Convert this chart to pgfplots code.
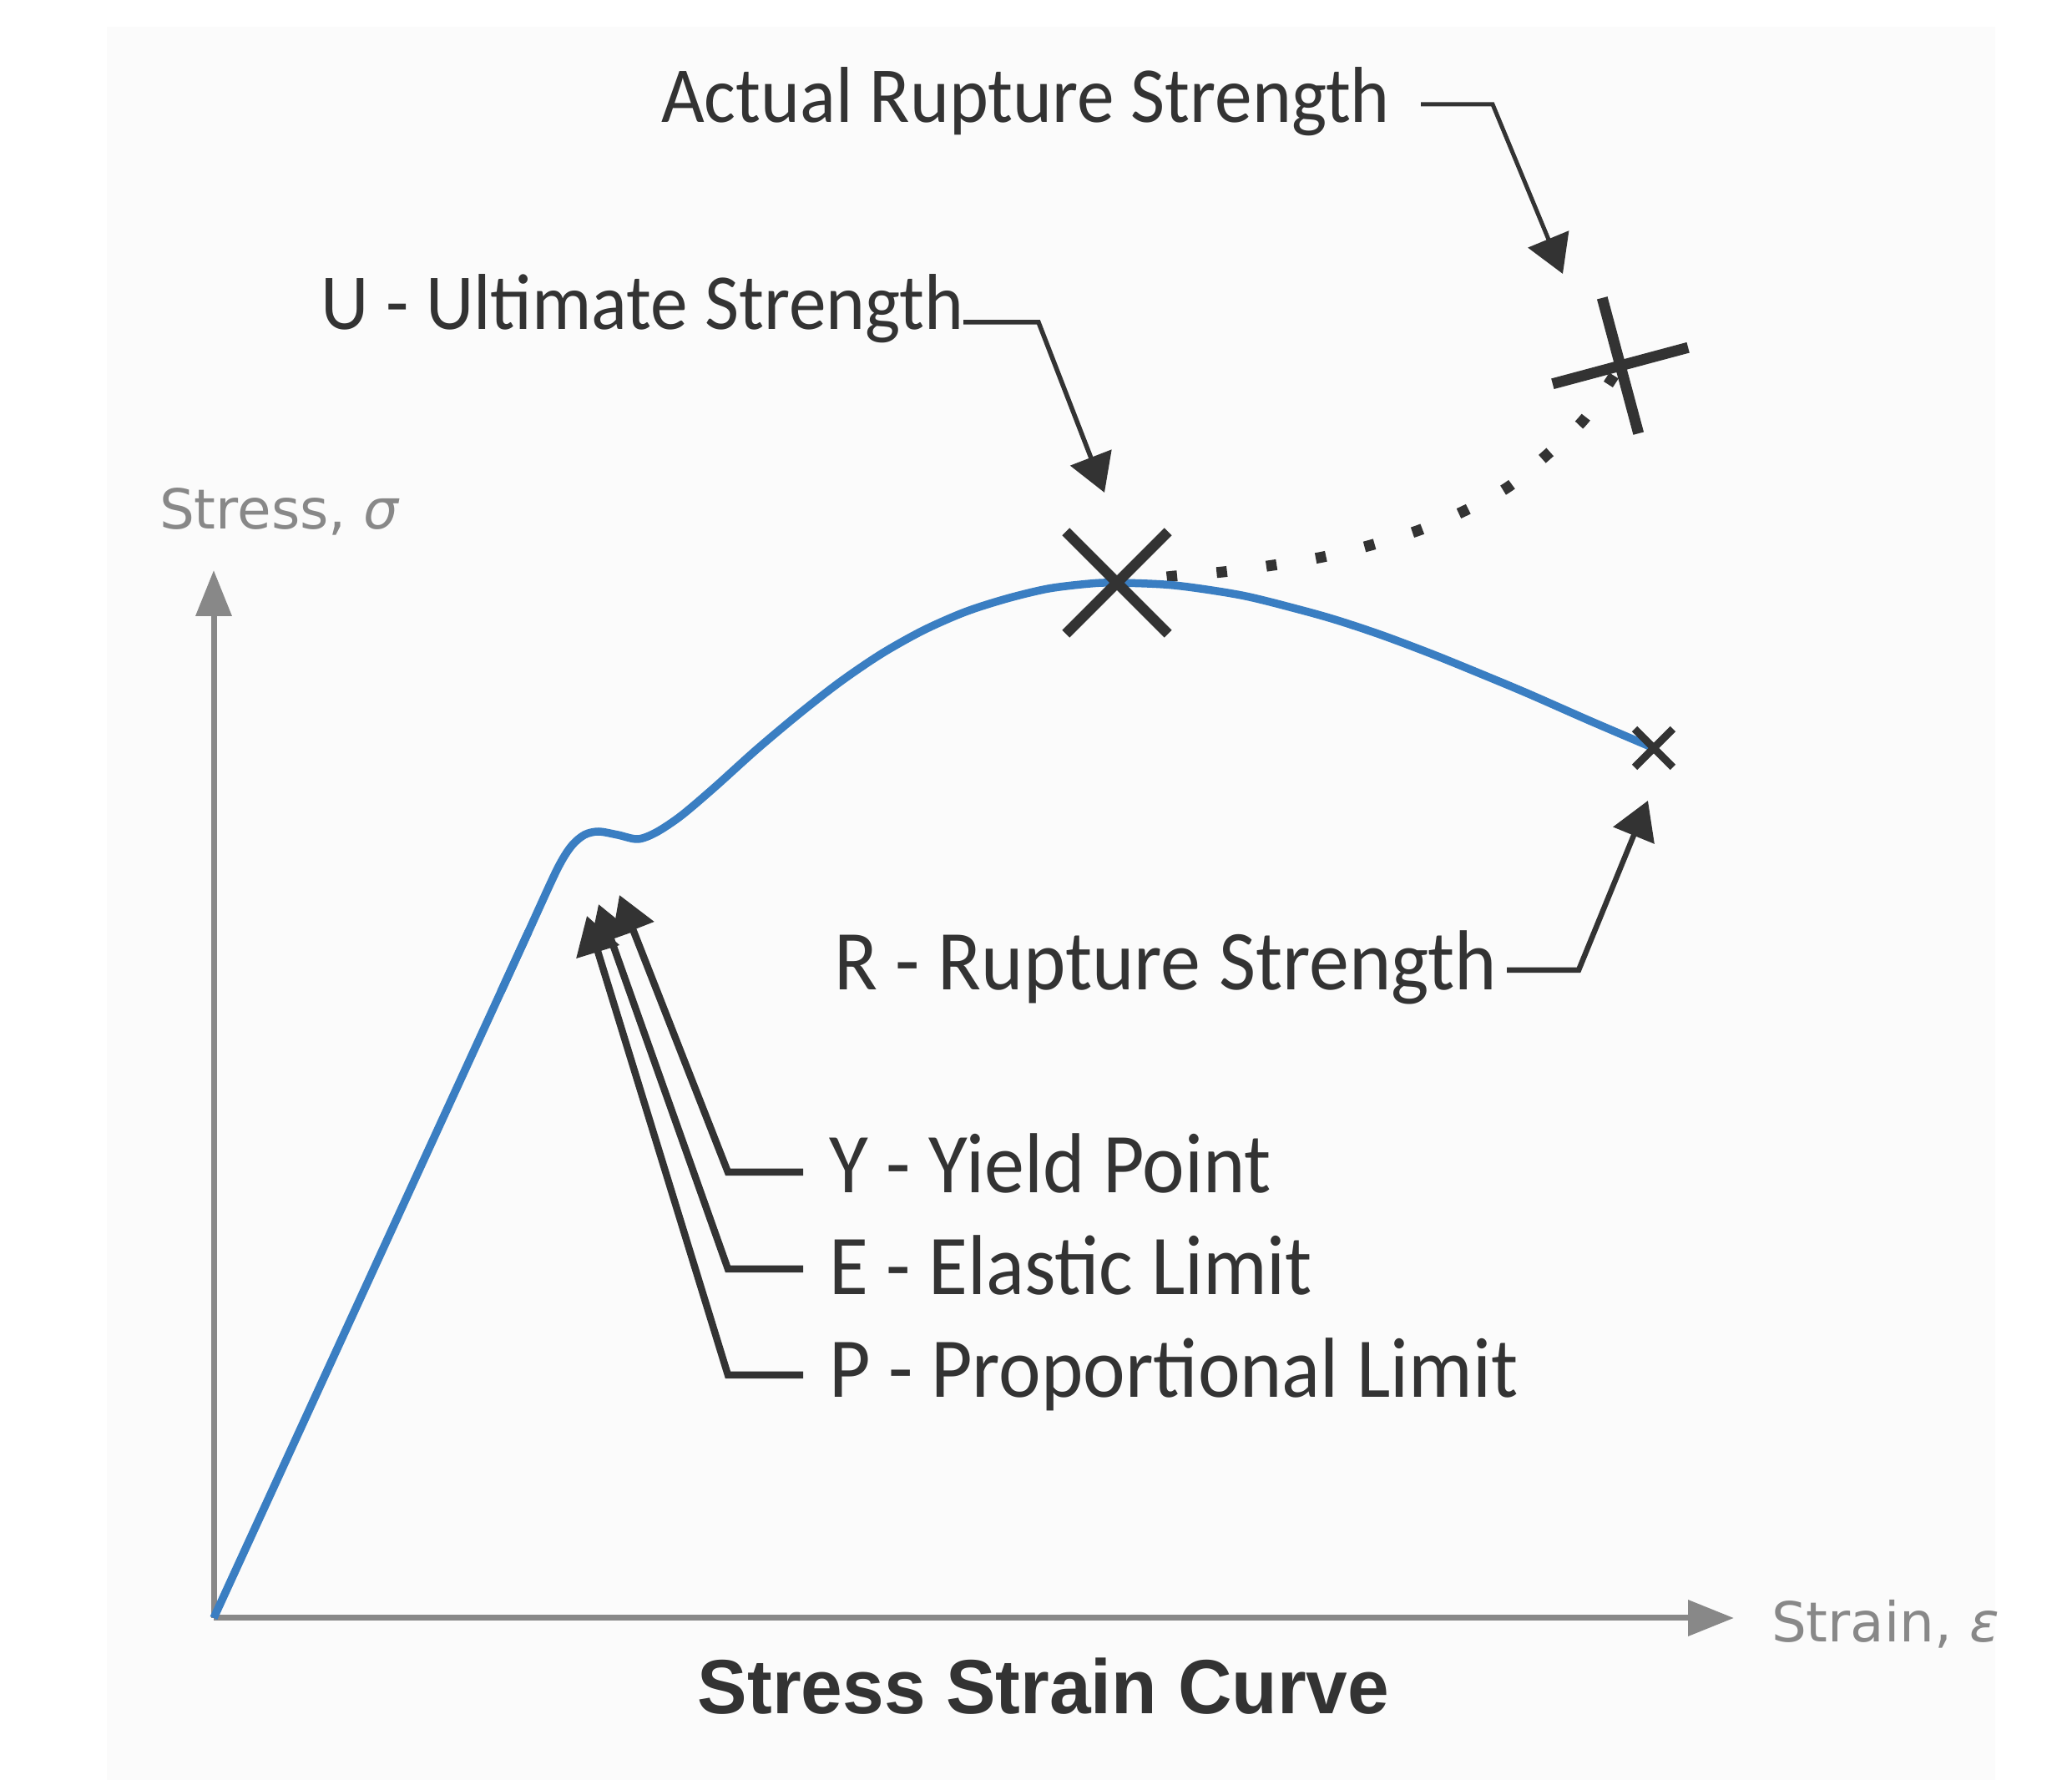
\documentclass[border=0pt]{standalone}
\usepackage{pgfplots}
\pgfplotsset{compat=1.18}
\usetikzlibrary{arrows.meta}
\usepackage{fontspec}
\setmainfont{Carlito}
\newfontfamily\annofont[FakeStretch=0.94]{Carlito}
\newfontfamily\titlefont[FakeStretch=0.97]{Liberation Sans}
\newfontfamily\axfont{DejaVu Sans}
\definecolor{dark}{HTML}{333333}
\definecolor{curveblue}{HTML}{3A7EC2}
\definecolor{axgray}{HTML}{888888}
\definecolor{panel}{HTML}{FBFBFB}
\begin{document}
\begin{tikzpicture}
\begin{axis}[
  x=0.2pt, y=0.2pt,
  xmin=-256, xmax=2226, ymin=-194, ymax=1938,
  hide axis, clip=false,
  axis background/.style={fill=white},
]
\fill[panel] (-128,-194) rectangle (2134,1906);
% axes
\draw[axgray, line width=1.4pt, -{Triangle[length=11pt,width=8.4pt]}] (0,0) -- (1821,0);
\draw[axgray, line width=1.4pt, -{Triangle[length=11pt,width=8.4pt]}] (0,0) -- (0,1255);
% dotted extension to actual rupture
\addplot[smooth, line width=2.6pt, dark, dash pattern=on 2.5pt off 9.5pt] coordinates {
(1082,1240) (1151,1248) (1209,1253) (1269,1261) (1329,1271) (1386,1285) (1444,1303)
(1498,1326) (1551,1355) (1599,1395) (1641,1435) (1674,1483) (1684,1500)};
% stress strain curve
\addplot[line width=1.9pt, curveblue, line join=round] coordinates {(0,0) (377,822)};
\addplot[smooth, line width=1.9pt, curveblue, line join=round] coordinates {
(344,750) (377,822) (411,896) (428,924) (444,938) (461,942) (484,938) (508,933)
(530,941) (560,961) (600,995) (650,1040) (700,1082) (750,1121) (800,1155) (850,1183)
(900,1205) (950,1221) (1000,1233) (1050,1239) (1082,1240) (1150,1237) (1231,1225)
(1300,1208) (1346,1195) (1400,1177) (1461,1154) (1520,1130) (1575,1107) (1650,1074)
(1725,1042)};
% markers
\addplot[only marks, mark=x, mark size=17.3pt, mark options={line width=2.5pt, draw=dark}] coordinates {(1082,1240)};
\addplot[only marks, mark=x, mark size=6.5pt, mark options={line width=1.8pt, draw=dark}] coordinates {(1725,1042)};
\addplot[only marks, mark=+, mark size=16.8pt, mark options={line width=2.6pt, draw=dark, rotate=15}] coordinates {(1685,1500)};
% leaders
\draw[dark, line width=1pt, -{Triangle[length=9pt,width=10.4pt]}] (1446,1813) -- (1532,1813) -- (1616,1610);
\draw[dark, line width=1.1pt, -{Triangle[length=9pt,width=10.4pt]}] (898,1552) -- (988,1552) -- (1067,1348);
\draw[dark, line width=1.3pt, -{Triangle[length=9pt,width=10.4pt]}] (1549,776) -- (1635,776) -- (1718,979);
\draw[dark, line width=1.7pt, -{Triangle[length=9pt,width=10.4pt]}] (706,534) -- (616,534) -- (486,866);
\draw[dark, line width=1.7pt, -{Triangle[length=9pt,width=10.4pt]}] (706,418) -- (616,418) -- (461,855);
\draw[dark, line width=1.7pt, -{Triangle[length=9pt,width=10.4pt]}] (706,291) -- (616,291) -- (447,841);
% texts
\node[anchor=base west, inner sep=0pt, text=dark, font=\annofont\fontsize{19pt}{23pt}\selectfont] at (535,1791) {Actual Rupture Strength};
\node[anchor=base west, inner sep=0pt, text=dark, font=\annofont\fontsize{19pt}{23pt}\selectfont] at (128,1543) {U - Ultimate Strength};
\node[anchor=base west, inner sep=0pt, text=dark, font=\annofont\fontsize{20.4pt}{24pt}\selectfont] at (742,752) {R - Rupture Strength};
\node[anchor=base west, inner sep=0pt, text=dark, font=\annofont\fontsize{20.4pt}{24pt}\selectfont] at (736,509) {Y - Yield Point};
\node[anchor=base west, inner sep=0pt, text=dark, font=\annofont\fontsize{20.4pt}{24pt}\selectfont] at (736,387) {E - Elastic Limit};
\node[anchor=base west, inner sep=0pt, text=dark, font=\annofont\fontsize{20.4pt}{24pt}\selectfont] at (736,264) {P - Proportional Limit};
\node[anchor=base west, inner sep=0pt, text=axgray, font=\axfont\fontsize{13.2pt}{16pt}\selectfont] at (-66,1304) {Stress, {\itshape σ}};
\node[anchor=base west, inner sep=0pt, text=axgray, font=\axfont\fontsize{13.2pt}{16pt}\selectfont] at (1865,-29) {Strain, {\itshape ε}};
\node[anchor=base, inner sep=0pt, text=dark, font=\titlefont\bfseries\fontsize{18.4pt}{22pt}\selectfont] at (994,-115) {Stress Strain Curve};
\end{axis}
\end{tikzpicture}
\end{document}
